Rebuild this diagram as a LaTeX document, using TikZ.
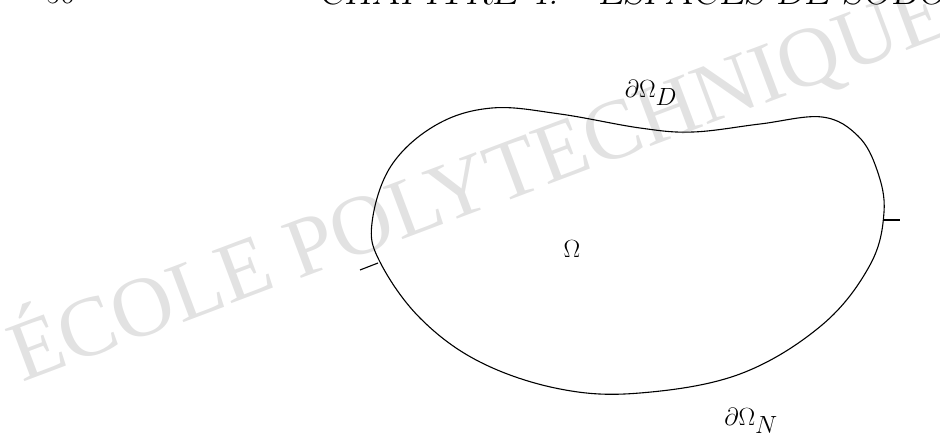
\documentclass[tikz,border=0pt]{standalone}
\usepackage{fontspec}
\newfontfamily\wmfont{Liberation Serif}
\definecolor{wmgray}{gray}{0.885}
\tikzset{
  wm/.style={text=wmgray, font=\wmfont\fontsize{85}{95}\selectfont, inner sep=0pt},
  hdr/.style={font=\fontsize{40}{44}\selectfont, inner sep=0pt},
  lbl/.style={font=\fontsize{34}{40}\selectfont, inner sep=0pt},
  bdry/.style={draw=black, line width=1.1pt},
  tickmark/.style={draw=black, line width=1.1pt}
}
\begin{document}
\begin{tikzpicture}[x=1pt,y=-1pt]
\useasboundingbox (0,0) rectangle (940,443);
\clip (0,0) rectangle (940,443);
% watermark
\node[wm, rotate=20.6, anchor=base west] (wmark) at (22,383) {ÉCOLE POLYTECHNIQUE};
% running header (cut off)
\node[hdr, anchor=base west, font=\fontsize{31}{36}\selectfont] (pagenum) at (46,4) {56};
\node[hdr, anchor=base west] (chap) at (318,5) {\slshape CHAPITRE 4.\quad ESPACES DE SOBOLEV};
% domain boundary
\draw[bdry] plot[smooth cycle, tension=0.62] coordinates {
 (372,223) (391,166) (436,125) (492,108) (560,114) (640,128) (693,132)
 (760,124) (822,117) (858,136) (877,170) (884,212) (870,265) (822,325)
 (740,374) (640,393) (560,389) (480,362) (420,318) (380,262)};
% ticks separating the boundary parts
\coordinate (tr1) at (884,220);
\coordinate (tr2) at (900,220);
\coordinate (tl1) at (378,263);
\coordinate (tl2) at (360,270);
\draw[tickmark] (tr1) -- (tr2);
\draw[tickmark] (tl1) -- (tl2);
% labels
\node[lbl] (omega) at (572,249) {$\Omega$};
\node[lbl] (gD) at (651,93) {$\partial\Omega_D$};
\node[lbl] (gN) at (751,421) {$\partial\Omega_N$};
\end{tikzpicture}
\end{document}
